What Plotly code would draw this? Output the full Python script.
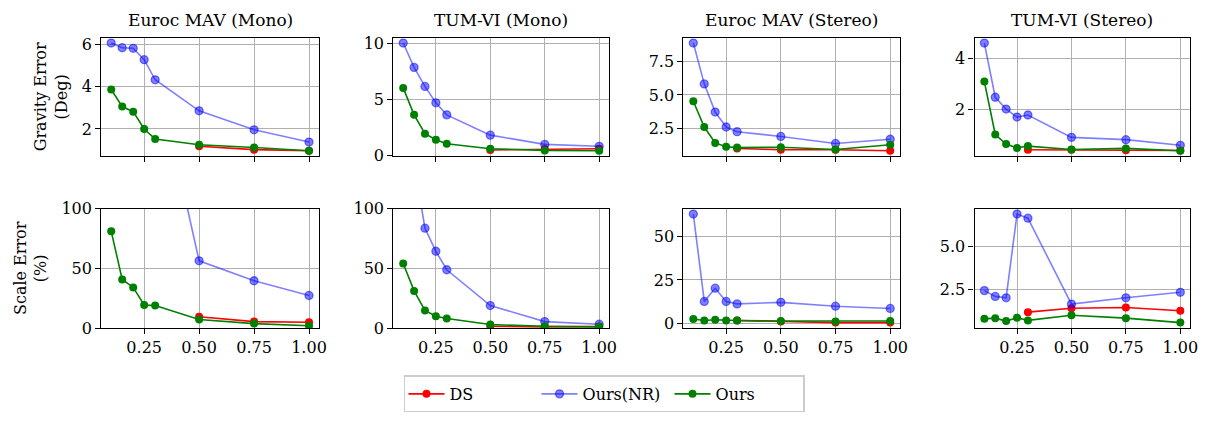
import plotly.graph_objects as go

W, H = 1219, 424
x = [0.1, 0.15, 0.2, 0.25, 0.3, 0.5, 0.75, 1.0]
x_ds_mono = [0.5, 0.75, 1.0]
x_ds_stereo = [0.3, 0.5, 0.75, 1.0]

titles = ["Euroc MAV (Mono)", "TUM-VI (Mono)", "Euroc MAV (Stereo)", "TUM-VI (Stereo)"]

# Gravity error (deg)
grav_nr = [
    [6.07, 5.85, 5.82, 5.28, 4.33, 2.86, 1.96, 1.38],
    [10.0, 7.84, 6.15, 4.7, 3.63, 1.83, 1.01, 0.84],
    [8.85, 5.82, 3.73, 2.62, 2.27, 1.92, 1.4, 1.71],
    [4.6, 2.49, 2.03, 1.72, 1.8, 0.93, 0.84, 0.62],
]
grav_ours = [
    [3.87, 3.06, 2.82, 2.0, 1.52, 1.25, 1.12, 0.97],
    [6.02, 3.63, 1.96, 1.43, 1.07, 0.62, 0.48, 0.45],
    [4.53, 2.62, 1.44, 1.16, 1.09, 1.12, 0.95, 1.3],
    [3.1, 1.04, 0.67, 0.52, 0.59, 0.46, 0.5, 0.41],
]
grav_ds = [
    [1.18, 1.02, 0.97],
    [0.52, 0.6, 0.62],
    [1.02, 0.93, 0.93, 0.86],
    [0.45, 0.45, 0.43, 0.42],
]
# Scale error (%)
scale_nr = [
    [600, 450, 380, 300, 221, 56.3, 39.6, 27.3],
    [200, 138, 83.6, 64.3, 48.8, 18.8, 5.4, 3.2],
    [62.7, 12.7, 20.3, 12.7, 11.3, 12.2, 10.0, 8.7],
    [2.41, 2.07, 1.99, 6.88, 6.64, 1.62, 1.99, 2.31],
]
scale_ours = [
    [81.0, 40.7, 34.0, 19.3, 18.8, 7.2, 3.7, 1.9],
    [54.1, 31.1, 14.7, 9.9, 8.0, 2.9, 1.5, 1.0],
    [2.7, 1.8, 2.2, 1.8, 1.8, 1.5, 1.3, 1.5],
    [0.76, 0.8, 0.63, 0.82, 0.67, 0.97, 0.8, 0.54],
]
scale_ds = [
    [9.4, 5.4, 4.8],
    [1.5, 1.0, 1.2],
    [1.8, 1.2, 0.6, 0.6],
    [1.15, 1.38, 1.42, 1.23],
]
ds_x = [x_ds_mono, x_ds_mono, x_ds_stereo, x_ds_stereo]

grav_ticks = [[2, 4, 6], [0, 5, 10], [2.5, 5.0, 7.5], [2, 4]]
grav_ticktext = [["2", "4", "6"], ["0", "5", "10"], ["2.5", "5.0", "7.5"], ["2", "4"]]
scale_ticks = [[0, 50, 100], [0, 50, 100], [0, 25, 50], [2.5, 5.0]]
scale_ticktext = [["0", "50", "100"], ["0", "50", "100"], ["0", "25", "50"], ["2.5", "5.0"]]
x_ticks = [0.25, 0.5, 0.75, 1.0]
x_ticktext = ["0.25", "0.50", "0.75", "1.00"]

FONT = "DejaVu Serif"
RED = "#ff0000"
BLUE = "rgba(0,0,255,0.5)"
GREEN = "#008000"

col_px = [(102, 321), (396, 613), (688, 906), (981, 1198)]
row_px = [(30, 154), (209, 334)]


def auto_range(vals, margin=0.05):
    lo, hi = min(vals), max(vals)
    d = hi - lo
    return [lo - margin * d, hi + margin * d]


fig = go.Figure()
for r in range(2):
    for c in range(4):
        k = r * 4 + c + 1
        xa = "x" if k == 1 else f"x{k}"
        ya = "y" if k == 1 else f"y{k}"
        if r == 0:
            nr, ours, ds = grav_nr[c], grav_ours[c], grav_ds[c]
        else:
            nr, ours, ds = scale_nr[c], scale_ours[c], scale_ds[c]
        show = (k == 1)
        fig.add_trace(go.Scatter(x=ds_x[c], y=ds, mode="lines+markers", name="DS",
                                 line=dict(color=RED, width=1.6),
                                 marker=dict(color=RED, size=8, line=dict(width=0)),
                                 showlegend=show, legendgroup="DS", xaxis=xa, yaxis=ya))
        fig.add_trace(go.Scatter(x=x, y=nr, mode="lines+markers", name="Ours(NR)",
                                 line=dict(color=BLUE, width=1.6),
                                 marker=dict(color=BLUE, size=8, line=dict(color=BLUE, width=1.3)),
                                 showlegend=show, legendgroup="NR", xaxis=xa, yaxis=ya))
        fig.add_trace(go.Scatter(x=x, y=ours, mode="lines+markers", name="Ours",
                                 line=dict(color=GREEN, width=1.6),
                                 marker=dict(color=GREEN, size=8, line=dict(width=0)),
                                 showlegend=show, legendgroup="Ours", xaxis=xa, yaxis=ya))

        x0, x1 = col_px[c]
        y0, y1 = row_px[r]
        xdom = [x0 / W, x1 / W]
        ydom = [1 - y1 / H, 1 - y0 / H]
        if r == 0:
            yr = auto_range(nr + ours + ds)
            tv, tt = grav_ticks[c], grav_ticktext[c]
        else:
            if c < 2:
                yr = [0, 100]
            else:
                yr = auto_range(nr + ours + ds)
            tv, tt = scale_ticks[c], scale_ticktext[c]
        axcommon = dict(showline=True, linecolor="black", linewidth=1.3, mirror=True,
                        ticks="outside", ticklen=5, tickwidth=1.2, tickcolor="black",
                        showgrid=True, gridcolor="#b0b0b0", gridwidth=1.3, zeroline=False,
                        tickfont=dict(family=FONT, size=16, color="black"))
        xkey = "xaxis" if k == 1 else f"xaxis{k}"
        ykey = "yaxis" if k == 1 else f"yaxis{k}"
        fig.layout[xkey] = dict(domain=xdom, anchor=ya, range=[0.055, 1.045],
                                tickvals=x_ticks, ticktext=x_ticktext,
                                showticklabels=(r == 1), **axcommon)
        ytitle = None
        if c == 0:
            ytitle = dict(text="Gravity Error<br>(Deg)" if r == 0 else "Scale Error<br>(%)",
                          font=dict(family=FONT, size=16, color="black"), standoff=10)
        fig.layout[ykey] = dict(domain=ydom, anchor=xa, range=yr, tickvals=tv, ticktext=tt,
                                title=ytitle, **axcommon)

for c in range(4):
    x0, x1 = col_px[c]
    fig.add_annotation(text=titles[c], x=(x0 + x1) / 2 / W, y=1 - 11 / H, xref="paper", yref="paper",
                       showarrow=False, xanchor="center", yanchor="middle",
                       font=dict(family=FONT, size=17, color="black"))

fig.update_layout(
    width=W, height=H, margin=dict(l=0, r=0, t=0, b=0),
    paper_bgcolor="white", plot_bgcolor="white",
    font=dict(family=FONT, size=16, color="black"),
    legend=dict(orientation="h", x=608 / W, y=1 - 403 / H, xanchor="center", yanchor="middle",
                bordercolor="#cccccc", borderwidth=1.5, bgcolor="white",
                font=dict(family=FONT, size=16, color="black"), itemwidth=36,
                entrywidth=82, entrywidthmode="pixels", tracegroupgap=0),
)

fig.write_html("out.html")
